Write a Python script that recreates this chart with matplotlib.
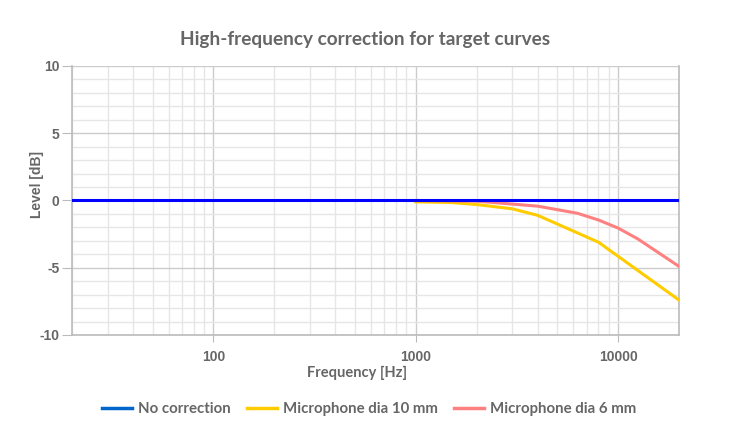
import matplotlib
matplotlib.use("Agg")
import matplotlib.pyplot as plt
from matplotlib.lines import Line2D
from matplotlib.ticker import FixedLocator, LogLocator, MultipleLocator, NullFormatter

# --- chart data ---
flat_freq = [20, 20000]
flat_level = [0, 0]

mic10_freq = [1000, 1500, 2000, 3000, 4000, 8000, 20000]
mic10_level = [-0.1, -0.15, -0.3, -0.62, -1.1, -3.1, -7.4]

mic6_freq = [1000, 2000, 4000, 6300, 8000, 10000, 12500, 20000]
mic6_level = [0.0, -0.05, -0.42, -0.95, -1.45, -2.05, -2.85, -4.9]

series_names = ["No correction", "Microphone dia 10 mm", "Microphone dia 6 mm"]
x_ticks = [100, 1000, 10000]
y_ticks = [-10, -5, 0, 5, 10]

plt.rcParams["font.family"] = ["Lato", "DejaVu Sans"]
plt.rcParams["axes.unicode_minus"] = False
grey = "#666666"
tick_font = {"family": ["Liberation Sans", "DejaVu Sans"], "weight": "bold", "size": 10}

fig = plt.figure(figsize=(7.3, 4.4), dpi=100)
ax = fig.add_axes([72 / 730, 1 - 335 / 440, (679 - 72) / 730, (335 - 66) / 440])

ax.plot(flat_freq, flat_level, color="#0000ff", lw=2.2, zorder=5)
ax.plot(mic10_freq, mic10_level, color="#ffcc00", lw=2.2, zorder=3)
ax.plot(mic6_freq, mic6_level, color="#ff8080", lw=2.2, zorder=4)

ax.set_xscale("log")
ax.set_xlim(20, 20000)
ax.set_ylim(-10, 10)

ax.xaxis.set_major_locator(FixedLocator(x_ticks))
ax.set_xticklabels([str(t) for t in x_ticks], fontdict=tick_font)
ax.xaxis.set_minor_locator(LogLocator(base=10, subs=range(2, 10)))
ax.xaxis.set_minor_formatter(NullFormatter())
ax.yaxis.set_major_locator(FixedLocator(y_ticks))
ax.set_yticklabels([str(t) for t in y_ticks], fontdict=tick_font)
ax.yaxis.set_minor_locator(MultipleLocator(1))

ax.grid(which="major", color="#cccccc", lw=1.0)
ax.grid(which="minor", color="#e6e6e6", lw=1.0)
ax.set_axisbelow(True)

for side in ["left", "bottom", "right"]:
    ax.spines[side].set_color("#bbbbbb")
    ax.spines[side].set_linewidth(1.2)
ax.spines["top"].set_visible(False)

ax.tick_params(which="major", length=7, color="#bbbbbb", labelcolor=grey, pad=2)
ax.tick_params(axis="x", which="major", length=5, pad=6)
ax.tick_params(which="minor", length=0)

fig.text(357 / 730, 1 - 373 / 440, "Frequency [Hz]", ha="center", va="center",
         color=grey, fontsize=10.5, fontweight="bold")
fig.text(37 / 730, 1 - 185 / 440, "Level [dB]", ha="center", va="center",
         rotation=90, color=grey, fontsize=10, fontweight="bold",
         family=["Liberation Sans", "DejaVu Sans"])

fig.text(0.5, 1 - 40 / 440, "High-frequency correction for target curves",
         ha="center", va="center", color=grey, fontsize=13.7, fontweight="bold")

handles = [Line2D([], [], color=c, lw=2.5) for c in ["#0066cc", "#ffcc00", "#ff8080"]]
fig.legend(handles, series_names, loc="center", bbox_to_anchor=(369 / 730, 1 - 409 / 440),
           ncol=3, frameon=False, labelcolor=grey,
           handlelength=2.0, handletextpad=0.4, columnspacing=1.1,
           prop={"weight": "bold", "size": 10.8})

fig.savefig("out.png", dpi=100)
